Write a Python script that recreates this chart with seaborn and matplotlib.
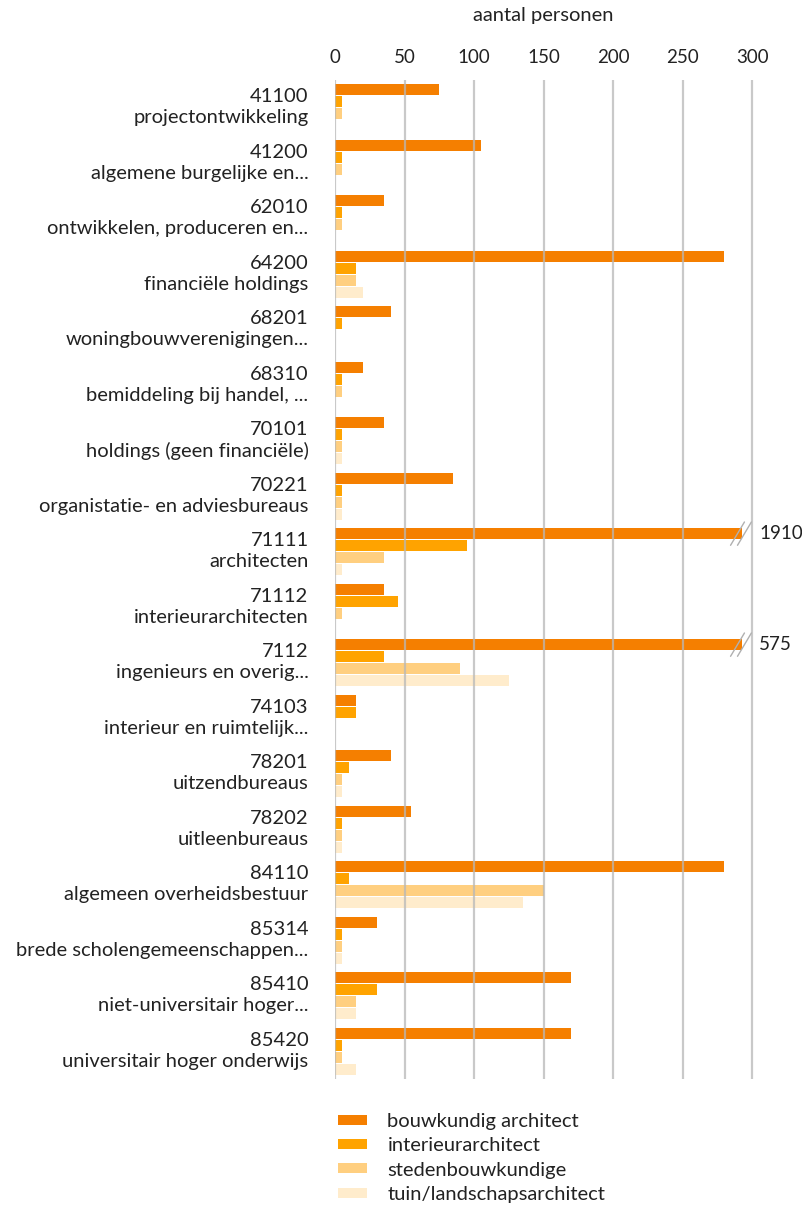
import matplotlib
matplotlib.use("Agg")
import matplotlib.pyplot as plt
import matplotlib.transforms as mtransforms
import seaborn as sns
import pandas as pd
import numpy as np
from matplotlib.patches import Patch

codes = ["41100", "41200", "62010", "64200", "68201", "68310", "70101", "70221",
         "71111", "71112", "7112", "74103", "78201", "78202", "84110", "85314",
         "85410", "85420"]
names = ["projectontwikkeling", "algemene burgelijke en...", "ontwikkelen, produceren en...",
         "financiële holdings", "woningbouwverenigingen...", "bemiddeling bij handel, ...",
         "holdings (geen financiële)", "organistatie- en adviesbureaus", "architecten",
         "interieurarchitecten", "ingenieurs en overig...", "interieur en ruimtelijk...",
         "uitzendbureaus", "uitleenbureaus", "algemeen overheidsbestuur",
         "brede scholengemeenschappen...", "niet-universitair hoger...",
         "universitair hoger onderwijs"]
series = ["bouwkundig architect", "interieurarchitect", "stedenbouwkundige",
          "tuin/landschapsarchitect"]
bouwkundig = [75, 105, 35, 280, 40, 20, 35, 85, 1910, 35, 575, 15, 40, 55, 280, 30, 170, 170]
interieur = [5, 5, 5, 15, 5, 5, 5, 5, 95, 45, 35, 15, 10, 5, 10, 5, 30, 5]
steden = [5, 5, 5, 15, np.nan, 5, 5, 5, 35, 5, 90, np.nan, 5, 5, 150, 5, 15, 5]
tuin = [np.nan, np.nan, np.nan, 20, np.nan, np.nan, 5, 5, 5, np.nan, 125, np.nan, 5, 5, 135, 5, 15, 15]
xticks = [0, 50, 100, 150, 200, 250, 300]
colors = ["#F57F00", "#FFA300", "#FFCF80", "#FFECCC"]

cap = 293
labels = [f"{c}\n{n}" for c, n in zip(codes, names)]
rows = []
for s, vals in zip(series, [bouwkundig, interieur, steden, tuin]):
    for lab, v in zip(labels, vals):
        if not np.isnan(v):
            rows.append({"cat": lab, "series": s, "value": min(v, cap), "true": v})
df = pd.DataFrame(rows)

sns.set_theme(style="white")
plt.rcParams["font.family"] = ["Lato", "DejaVu Sans"]
fs_txt = 14.5
fs_num = 13.5
tc = "#222222"

fig = plt.figure(figsize=(8.02, 12.07), dpi=100)
ax = fig.add_axes([335 / 802, 1 - 1079 / 1207, (766 - 335) / 802, (1079 - 80) / 1207])

sns.barplot(data=df, x="value", y="cat", hue="series", order=labels, hue_order=series,
            palette=colors, orient="h", width=0.87, gap=0.07, dodge=True,
            errorbar=None, ax=ax, legend=False, saturation=1, zorder=2, linewidth=0)

ax.set_xlim(0, 310)
ax.set_xticks(xticks)
ax.xaxis.tick_top()
ax.tick_params(axis="x", length=0, pad=10, labelsize=fs_num, colors=tc)
ax.tick_params(axis="y", length=0, pad=19, labelsize=fs_txt, colors=tc)
shift = mtransforms.ScaledTranslation(0, 4 / 100, fig.dpi_scale_trans)
for t in ax.get_yticklabels():
    t.set_multialignment("right")
    t.set_linespacing(1.3)
    t.set_transform(t.get_transform() + shift)
ax.set_xlabel("")
ax.set_ylabel("")
for sp in ax.spines.values():
    sp.set_visible(False)
for xv in xticks:
    ax.axvline(xv, color="#b8b8b8", lw=1.6, alpha=0.75, zorder=3)

# broken bars: break marks and true value labels
ypos = {lab: i for i, lab in enumerate(labels)}
bar_off = -0.87 / 2 + 0.87 / 8
for lab, v in zip(labels, bouwkundig):
    if v > cap:
        y = ypos[lab] + bar_off
        for dx in (-2.5, 2.5):
            ax.plot([cap - 6 + dx, cap + 4 + dx], [y + 0.21, y - 0.21], color="#b0b0b0",
                    lw=1.0, zorder=4, clip_on=False)
        ax.text(cap + 12, y, f"{v}", va="center", ha="left", fontsize=fs_num, color=tc)

ax.set_ylim(len(labels) - 0.5, -0.5)

fig.text(543 / 802, 1 - 16 / 1207, "aantal personen", ha="center", va="center",
         fontsize=fs_txt, color=tc)

handles = [Patch(facecolor=c, edgecolor="none") for c in colors]
fig.legend(handles, series, loc="upper left", bbox_to_anchor=(330 / 802, 1 - 1105 / 1207),
           frameon=False, fontsize=fs_txt, handlelength=1.45, handleheight=0.4,
           labelspacing=0.36, handletextpad=1.0, borderaxespad=0, labelcolor=tc)

fig.savefig("out.png", dpi=100)
